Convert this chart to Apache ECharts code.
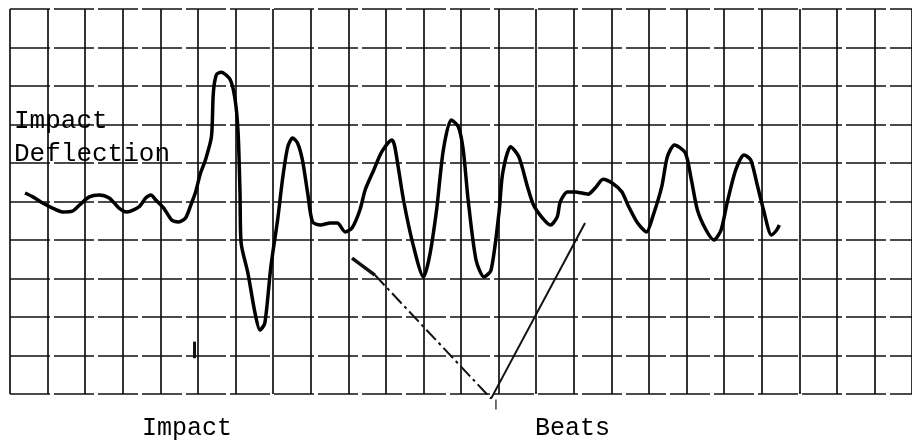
<!DOCTYPE html>
<html>
<head>
<meta charset="utf-8">
<script src="https://cdn.jsdelivr.net/npm/echarts@6/dist/echarts.min.js"></script>
<style>
  html, body { margin: 0; padding: 0; background: #fff; }
  #chart { width: 912px; height: 444px; }
</style>
</head>
<body>
<div id="chart"></div>
<script>
// Recorder trace: time in chart divisions, deflection in chart divisions (0 = rest line)
const timeDiv = [
  0.40, 0.61, 0.87, 1.13, 1.40, 1.66, 1.85, 2.11, 2.37, 2.64,
  2.90, 3.11, 3.43, 3.61, 3.75, 3.88, 4.09, 4.30, 4.49, 4.67,
  4.83, 4.93, 5.07, 5.20, 5.36, 5.41, 5.49, 5.62, 5.86, 5.99,
  6.07, 6.12, 6.15, 6.33, 6.52, 6.65, 6.78, 6.94, 7.12, 7.26,
  7.39, 7.52, 7.65, 7.78, 7.92, 8.05, 8.26, 8.52, 8.71, 8.92,
  9.10, 9.31, 9.45, 9.68, 9.89, 10.16, 10.24, 10.47, 10.74, 11.00,
  11.16, 11.35, 11.53, 11.74, 11.93, 12.06, 12.19, 12.40, 12.61, 12.80,
  13.01, 13.11, 13.32, 13.54, 13.77, 13.93, 14.17, 14.38, 14.56, 14.64,
  14.83, 15.04, 15.38, 15.57, 15.78, 16.02, 16.28, 16.44, 16.70, 16.94,
  17.10, 17.34, 17.49, 17.68, 17.97, 18.13, 18.29, 18.52, 18.73, 18.92,
  19.08, 19.31, 19.53, 19.71, 19.87, 20.05, 20.26, 20.40, 20.47
];
const deflection = [
  0.22, 0.12, -0.04, -0.17, -0.27, -0.25, -0.09, 0.12, 0.17, 0.09,
  -0.17, -0.27, -0.14, 0.09, 0.17, 0.04, -0.17, -0.48, -0.53, -0.43,
  -0.04, 0.22, 0.74, 1.08, 1.68, 2.82, 3.29, 3.36, 3.16, 2.64,
  1.78, 0.22, -1.08, -1.86, -2.90, -3.34, -3.16, -1.70, -0.48, 0.64,
  1.42, 1.65, 1.52, 1.08, 0.22, -0.53, -0.61, -0.56, -0.56, -0.79,
  -0.69, -0.22, 0.30, 0.82, 1.29, 1.60, 1.42, 0.04, -1.18, -1.96,
  -1.44, -0.22, 1.34, 2.12, 1.94, 1.34, 0.04, -1.52, -1.96, -1.78,
  -0.30, 0.74, 1.42, 1.16, 0.38, -0.09, -0.43, -0.61, -0.40, -0.01,
  0.25, 0.25, 0.19, 0.35, 0.58, 0.48, 0.25, -0.09, -0.56, -0.79,
  -0.40, 0.38, 1.16, 1.47, 1.26, 0.56, -0.22, -0.74, -1.00, -0.74,
  -0.04, 0.82, 1.21, 1.08, 0.48, -0.22, -0.87, -0.74, -0.61
];

// Chart paper extent (divisions)
const timeRange = [0, 24];
const deflRange = [-5, 5];

// Hand-drawn pointer lines (data coordinates)
const impactMark = [[4.91, -3.64], [4.91, -4.07]];
const beatsPointerLeftHead = [[9.10, -1.47], [9.71, -1.91]];
const beatsPointerLeft = [[9.71, -1.91], [12.80, -5.12]];
const beatsPointerRight = [[12.80, -5.12], [15.30, -0.56]];
const beatsTick = [[12.93, -5.14], [12.93, -5.40]];

// Typed captions
const captionDeflection = ['Impact', 'Deflection'];
const captionImpact = 'Impact';
const captionBeats = 'Beats';

const traceData = timeDiv.map((t, i) => [t, deflection[i]]);
const ink = '#111';
const fontStack = '"Liberation Mono", "DejaVu Sans Mono", monospace';
const typeFontLarge = '26px ' + fontStack;
const typeFont = '25px ' + fontStack;

function pointerSeries(data, width, dash) {
  return {
    type: 'line',
    data: data,
    symbol: 'none',
    clip: false,
    silent: true,
    z: 4,
    lineStyle: { color: ink, width: width, type: dash || 'solid' }
  };
}

const chart = echarts.init(document.getElementById('chart'), null, { renderer: 'canvas' });

chart.setOption({
  backgroundColor: '#fff',
  animation: false,
  grid: { left: 10, right: -8, top: 9, bottom: 50, containLabel: false },
  xAxis: {
    type: 'value',
    min: timeRange[0],
    max: timeRange[1],
    interval: 1,
    axisLine: { show: false },
    axisTick: { show: false },
    axisLabel: { show: false },
    splitLine: { show: true, lineStyle: { color: ink, width: 1.7 } }
  },
  yAxis: {
    type: 'value',
    min: deflRange[0],
    max: deflRange[1],
    interval: 1,
    axisLine: { show: false },
    axisTick: { show: false },
    axisLabel: { show: false },
    splitLine: { show: true, lineStyle: { color: ink, width: 1.7, type: [40, 4] } }
  },
  series: [
    {
      type: 'line',
      data: traceData,
      symbol: 'none',
      smooth: 0.25,
      z: 5,
      lineStyle: { color: '#000', width: 3.5 }
    },
    pointerSeries(impactMark, 3),
    pointerSeries(beatsPointerLeftHead, 3.5),
    pointerSeries(beatsPointerLeft, 2, [14, 4, 3, 4]),
    pointerSeries(beatsPointerRight, 2),
    pointerSeries(beatsTick, 1.2)
  ],
  graphic: [
    {
      type: 'text', left: 14, top: 108, z: 10,
      style: { text: captionDeflection[0], font: typeFontLarge, fill: '#000' }
    },
    {
      type: 'text', left: 14, top: 141, z: 10,
      style: { text: captionDeflection[1], font: typeFontLarge, fill: '#000' }
    },
    {
      type: 'text', left: 142, top: 416, z: 10,
      style: { text: captionImpact, font: typeFont, fill: '#000' }
    },
    {
      type: 'text', left: 535, top: 416, z: 10,
      style: { text: captionBeats, font: typeFont, fill: '#000' }
    }
  ]
});
</script>
</body>
</html>
